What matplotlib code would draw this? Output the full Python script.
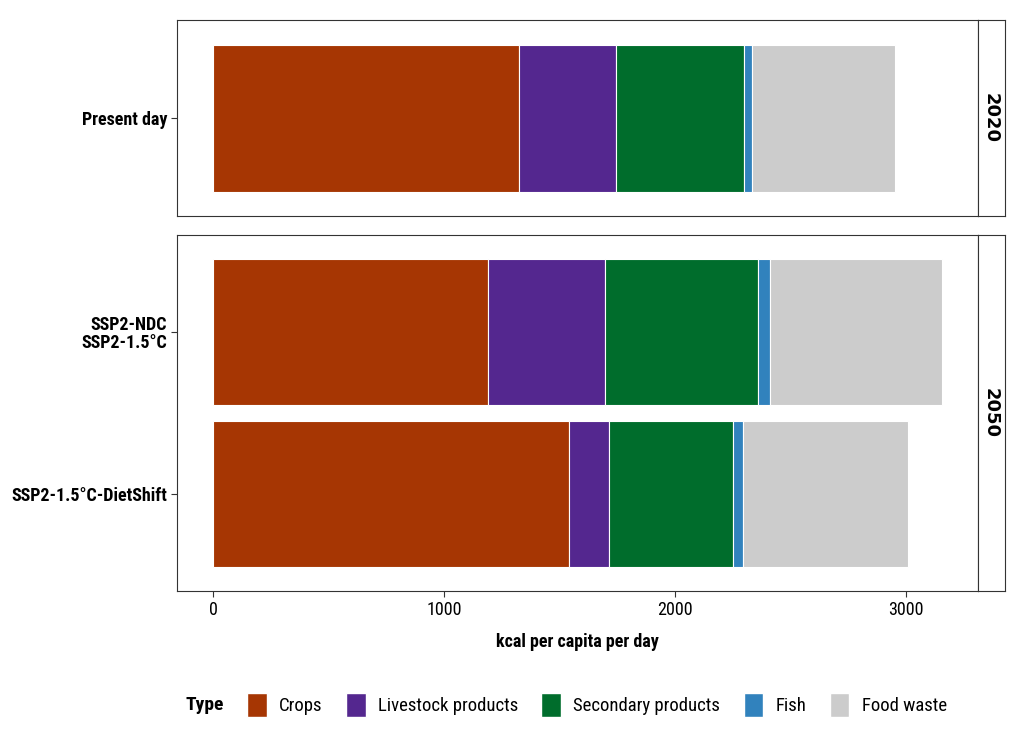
import matplotlib.pyplot as plt
from matplotlib.patches import Patch
from matplotlib import font_manager

# data
types = ['Crops', 'Livestock products', 'Secondary products', 'Fish', 'Food waste']
colors = ['#A63603', '#54278F', '#006D2C', '#3182BD', '#CCCCCC']

scen_2020 = ['Present day']
vals_2020 = {
    'Crops': [1325],
    'Livestock products': [420],
    'Secondary products': [554],
    'Fish': [33],
    'Food waste': [620],
}

scen_2050 = ['SSP2-1.5°C-DietShift', 'SSP2-NDC\nSSP2-1.5°C']
vals_2050 = {
    'Crops': [1540, 1190],
    'Livestock products': [171, 507],
    'Secondary products': [538, 662],
    'Fish': [42, 49],
    'Food waste': [716, 745],
}

names = {f.name for f in font_manager.fontManager.ttflist}
narrow = 'DejaVu Sans'
for cand in ['Liberation Sans Narrow', 'Roboto Condensed', 'PT Sans Narrow', 'Archivo Narrow']:
    if cand in names:
        narrow = cand
        break
plt.rcParams['font.family'] = [narrow, 'DejaVu Sans']

W, H = 1024, 736
fig = plt.figure(figsize=(W / 100, H / 100), dpi=100)

def fr(x0, y0, x1, y1):
    return [x0 / W, 1 - y1 / H, (x1 - x0) / W, (y1 - y0) / H]

ax1 = fig.add_axes(fr(177, 20, 978, 216))
ax2 = fig.add_axes(fr(177, 235, 978, 591), sharex=ax1)
s1 = fig.add_axes(fr(978, 20, 1005, 216))
s2 = fig.add_axes(fr(978, 235, 1005, 591))

def draw(ax, scen, vals):
    ys = list(range(1, len(scen) + 1))
    left = [0] * len(scen)
    for t, c in zip(types, colors):
        ax.barh(ys, vals[t], left=left, height=0.9, color=c,
                edgecolor='white', linewidth=0.8)
        left = [l + v for l, v in zip(left, vals[t])]
    ax.set_yticks(ys)
    ax.set_yticklabels(scen, fontsize=13, fontweight='bold', color='black',
                       linespacing=1.0)
    ax.set_ylim(0.4, len(scen) + 0.6)
    for sp in ax.spines.values():
        sp.set_color('#333333')
        sp.set_linewidth(0.8)
    ax.tick_params(axis='y', length=4, color='#333333', pad=3)

draw(ax1, scen_2020, vals_2020)
draw(ax2, scen_2050, vals_2050)

totals = [sum(vals_2050[t][i] for t in types) for i in range(2)]
xmax = max(totals)
ax1.set_xlim(-0.05 * xmax, 1.05 * xmax)
ax2.set_xticks([0, 1000, 2000, 3000])
ax2.tick_params(axis='x', labelsize=13, length=4, color='#333333', pad=3)
ax1.tick_params(axis='x', bottom=False, labelbottom=False)
ax2.set_xlabel('kcal per capita per day', fontsize=13, fontweight='bold', labelpad=10)

for s, lab in [(s1, '2020'), (s2, '2050')]:
    s.set_xticks([])
    s.set_yticks([])
    for sp in s.spines.values():
        sp.set_color('#333333')
        sp.set_linewidth(0.8)
    s.text(0.45, 0.5, lab, rotation=270, ha='center', va='center',
           fontsize=13, fontweight='bold', family='DejaVu Sans',
           transform=s.transAxes)

handles = [Patch(facecolor=c, edgecolor='white', label=t) for t, c in zip(types, colors)]
fig.text(186 / W, 1 - 705 / H, 'Type', fontsize=14, fontweight='bold', va='center')
fig.legend(handles=handles, loc='center left', bbox_to_anchor=(247 / W, 1 - 705 / H),
           ncol=5, frameon=False, fontsize=13.5, handlelength=1.05, handleheight=1.55,
           handletextpad=0.65, columnspacing=1.25, borderaxespad=0, borderpad=0)

fig.savefig('out.png', dpi=100)
